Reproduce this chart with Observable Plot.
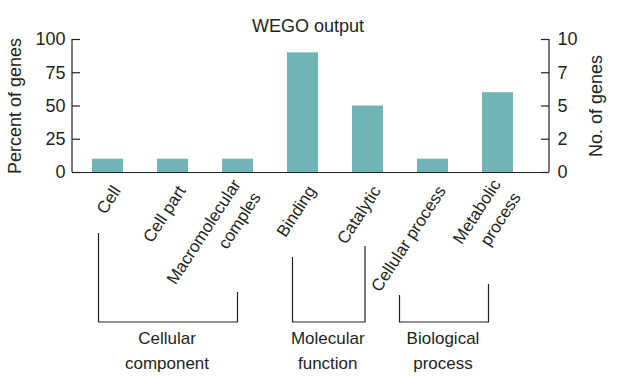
<!DOCTYPE html>
<html>
<head>
<meta charset="utf-8">
<script src="https://cdn.jsdelivr.net/npm/d3@7"></script>
<script src="https://cdn.jsdelivr.net/npm/@observablehq/plot@0.6"></script>
<style>
  html, body { margin: 0; padding: 0; background: #fff; }
  #chart svg { display: block; }
</style>
</head>
<body>
<div id="chart"></div>
<script>
// ---- data ----
const categories = ["Cell", "Cell part", "Macromolecular\ncomples", "Binding", "Catalytic", "Cellular process", "Metabolic\nprocess"];
const percentOfGenes = [10, 10, 10, 90, 50, 10, 60];
const leftTicks = [0, 25, 50, 75, 100];
const rightTickLabels = ["0", "2", "5", "7", "10"];
const groupNames = ["Cellular\ncomponent", "Molecular\nfunction", "Biological\nprocess"];
const groupFirst = ["Cell", "Binding", "Cellular process"];
const groupLast = ["Macromolecular\ncomples", "Catalytic", "Metabolic\nprocess"];
const titleText = "WEGO output";
const leftLabel = "Percent of genes";
const rightLabel = "No. of genes";

const data = categories.map((c, i) => ({category: c, percent: percentOfGenes[i]}));

// ---- layout ----
const W = 620, H = 377;
const mL = 72, mR = 71, mT = 39, mB = 205;
const frameW = W - mL - mR;
const ink = "#231f20";

// bracket geometry relative to band centres / frame bottom (layout, not data)
const bracketLayout = [
  {dl: -9, topL: 61, dr: 0, topR: 120},
  {dl: -10, topL: 85, dr: -2.5, topR: 74},
  {dl: -33, topL: 123, dr: -9, topR: 112}
];
const bracketDrop = 150;

function annotations(index, scales, values, dimensions) {
  const {width, height, marginLeft, marginRight, marginTop, marginBottom} = dimensions;
  const x = scales.x;
  const bw = x.bandwidth ? x.bandwidth() : 0;
  const cx = c => x(c) + bw / 2;
  const bottom = height - marginBottom;
  const g = d3.create("svg:g");
  // vertical axis lines
  g.append("path")
    .attr("fill", "none").attr("stroke", ink).attr("stroke-width", 1.2)
    .attr("d", `M${marginLeft},${marginTop}V${bottom}M${width - marginRight},${marginTop}V${bottom}`);
  // brackets and group labels
  groupNames.forEach((name, i) => {
    const L = bracketLayout[i];
    const lx = cx(groupFirst[i]) + L.dl;
    const rx = cx(groupLast[i]) + L.dr;
    const by = bottom + bracketDrop;
    g.append("path")
      .attr("fill", "none").attr("stroke", ink).attr("stroke-width", 1.2)
      .attr("d", `M${lx},${bottom + L.topL}V${by}H${rx}V${bottom + L.topR}`);
    const t = g.append("text")
      .attr("fill", ink)
      .attr("font-size", 17)
      .attr("text-anchor", "middle");
    name.split("\n").forEach((line, j) => {
      t.append("tspan")
        .attr("x", (lx + rx) / 2 - 1)
        .attr("y", by + 22 + j * 25)
        .text(line);
    });
  });
  return g.node();
}

const chart = Plot.plot({
  width: W,
  height: H,
  marginLeft: mL,
  marginRight: mR,
  marginTop: mT,
  marginBottom: mB,
  style: {
    fontFamily: "'Liberation Sans', Arial, Helvetica, sans-serif",
    fontSize: "18px",
    color: ink,
    background: "#fff"
  },
  x: {domain: categories, range: [73, 533], paddingInner: 0.52, paddingOuter: 0.26, axis: null},
  y: {domain: [0, 100]},
  marks: [
    Plot.barY(data, {x: "category", y: "percent", fill: "#70b5b5"}),
    Plot.ruleY([0], {stroke: ink, strokeWidth: 1.2}),
    // inward ticks left and right
    Plot.ruleY(leftTicks, {y: d => d, stroke: ink, strokeWidth: 1.2, insetRight: frameW - 8}),
    Plot.ruleY(leftTicks, {y: d => d, stroke: ink, strokeWidth: 1.2, insetLeft: frameW - 8}),
    Plot.axisY(leftTicks, {anchor: "left", tickSize: 0, tickPadding: 7, fontSize: 18, label: null, fill: ink}),
    Plot.axisY(leftTicks, {anchor: "right", tickSize: 0, tickPadding: 8, fontSize: 18, label: null, fill: ink,
      tickFormat: d => rightTickLabels[leftTicks.indexOf(d)]}),
    annotations,
    Plot.text(data, {
      x: "category", text: "category", frameAnchor: "bottom",
      rotate: -57, textAnchor: "end", lineAnchor: "middle", lineHeight: 1.4,
      dx: 7, dy: 14, fontSize: 17, fill: ink
    }),
    Plot.text([leftLabel], {text: d => d, frameAnchor: "left", textAnchor: "middle", rotate: -90, dx: -57, fontSize: 18, fill: ink}),
    Plot.text([rightLabel], {text: d => d, frameAnchor: "right", textAnchor: "middle", rotate: -90, dx: 47, fontSize: 18, fill: ink}),
    Plot.text([titleText], {text: d => d, frameAnchor: "top", textAnchor: "middle", lineAnchor: "bottom", dx: -3, dy: -8, fontSize: 18, fill: ink})
  ]
});

document.getElementById("chart").append(chart);
</script>
</body>
</html>
